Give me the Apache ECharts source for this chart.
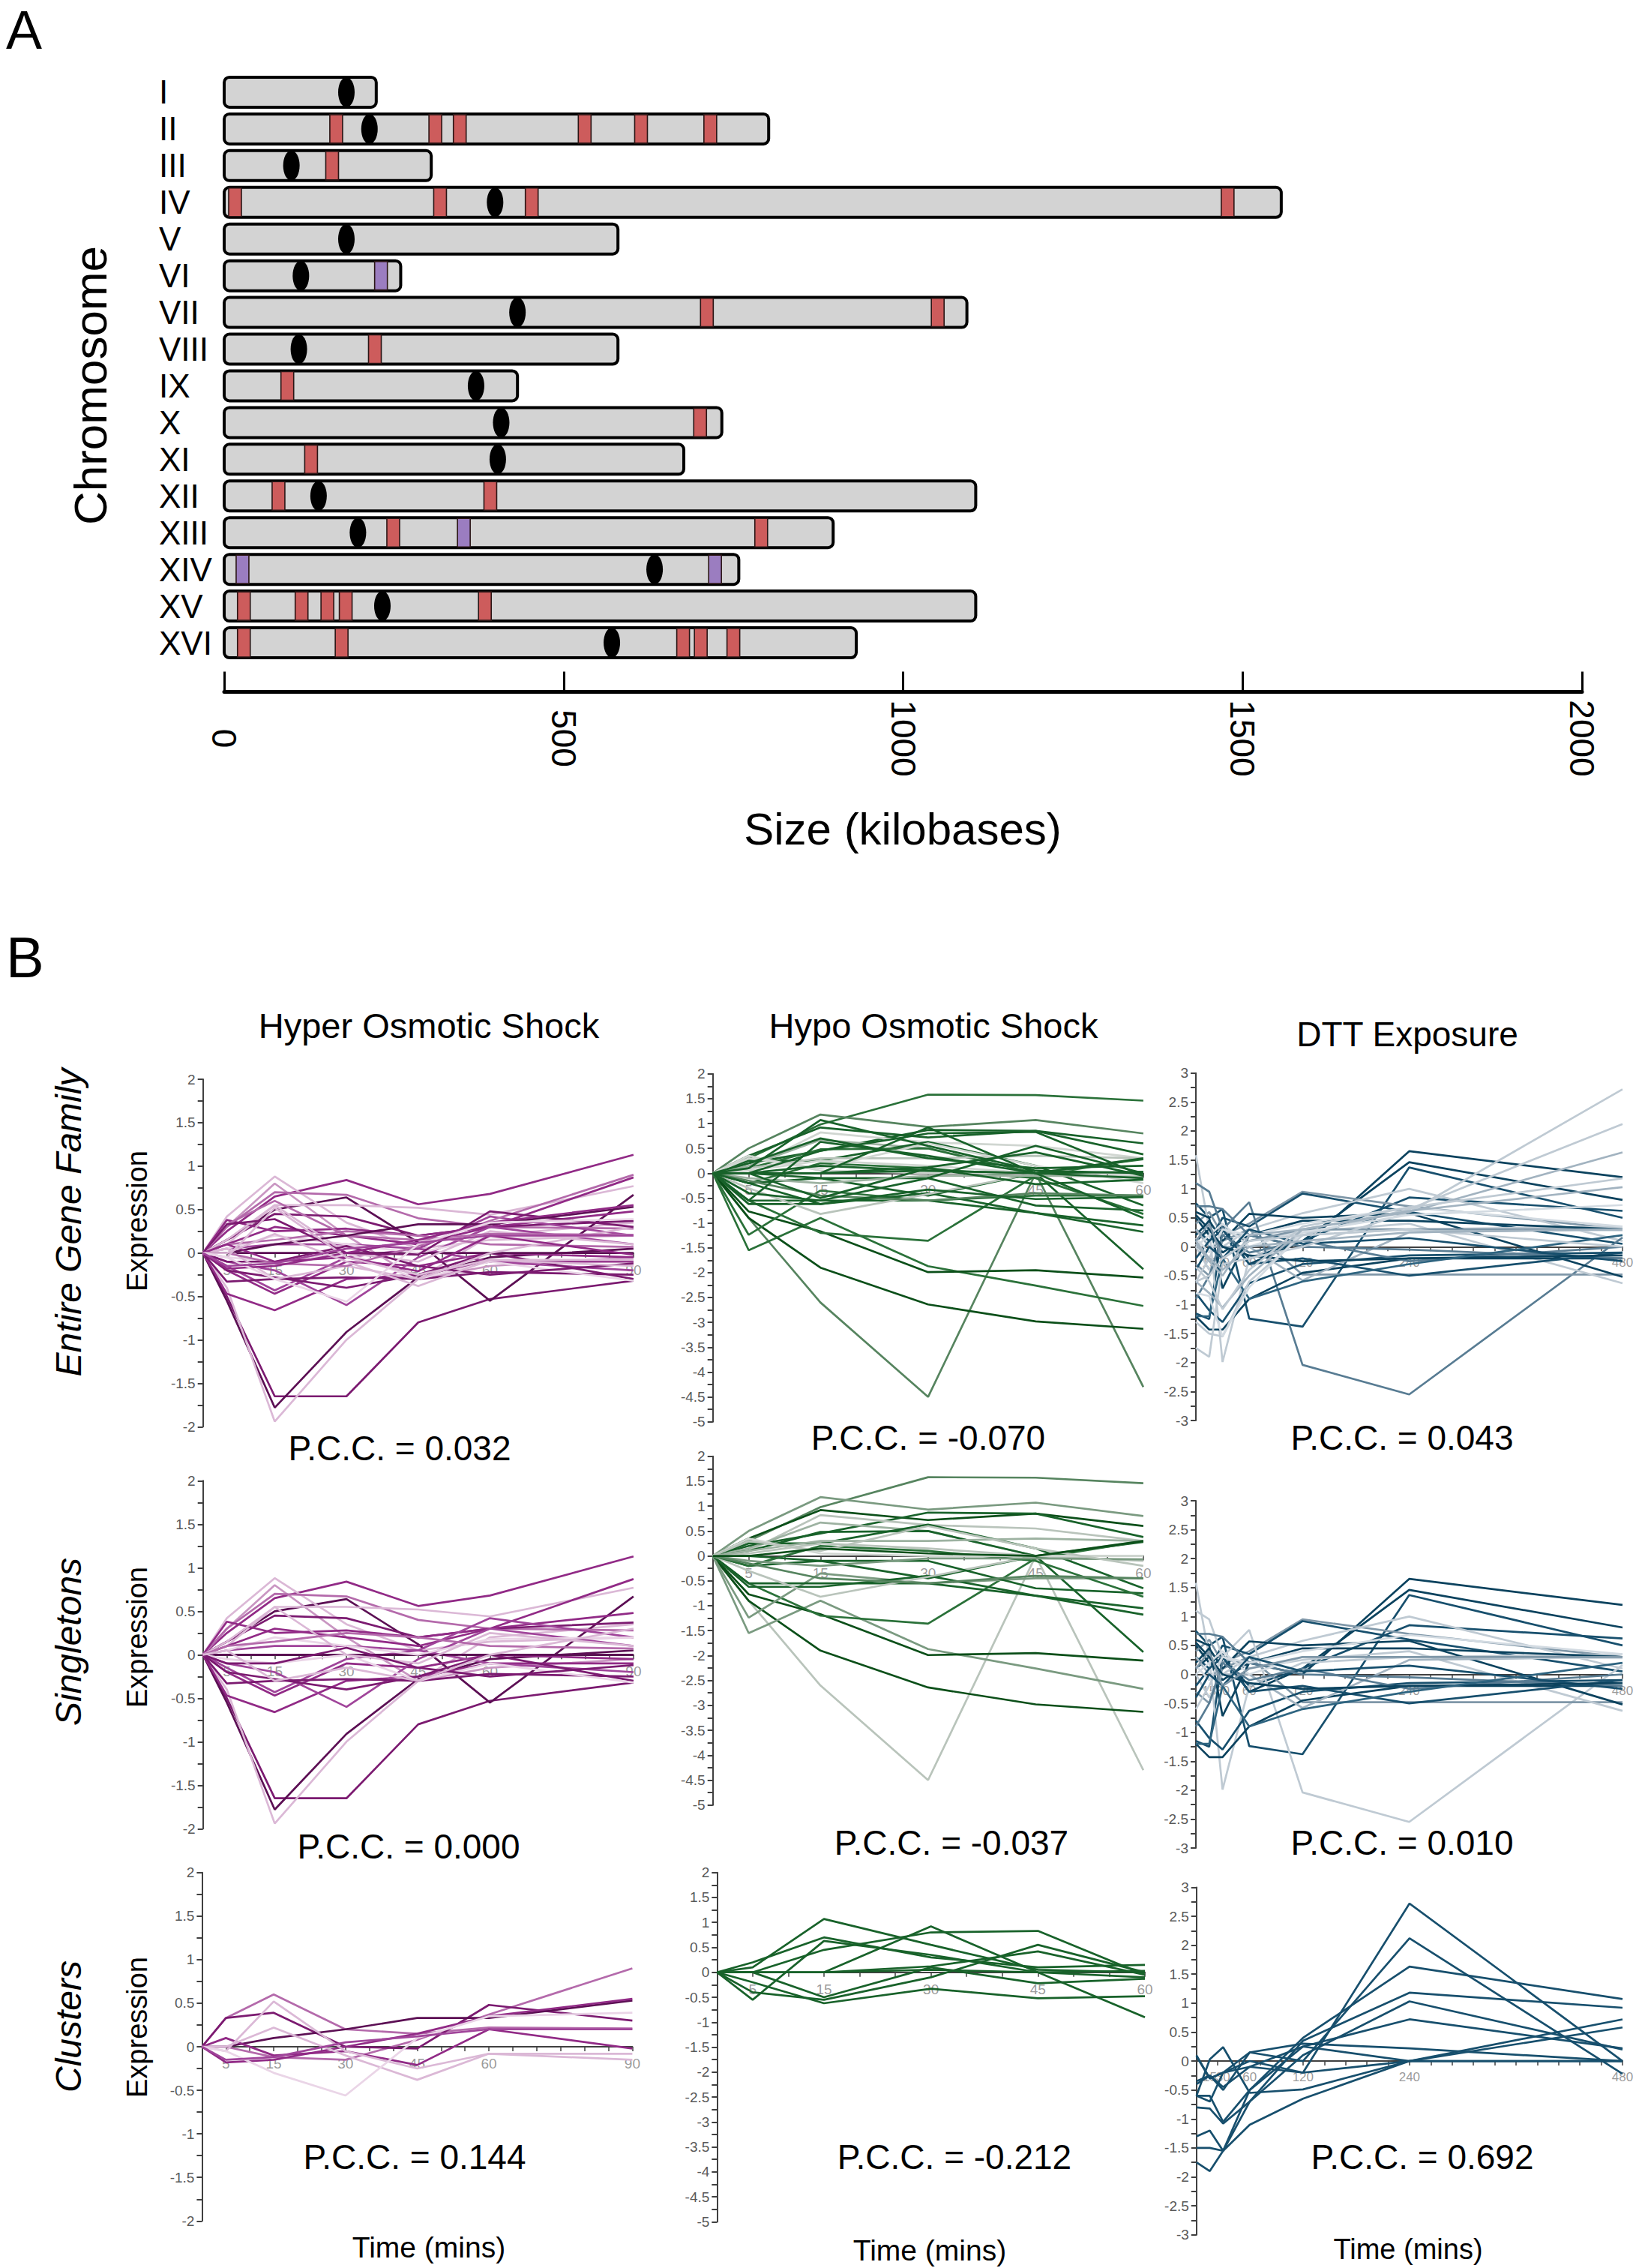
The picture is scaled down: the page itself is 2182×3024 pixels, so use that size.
<!DOCTYPE html>
<html><head><meta charset="utf-8">
<script src="https://cdn.jsdelivr.net/npm/echarts@6/dist/echarts.min.js"></script>
<style>html,body{margin:0;padding:0;background:#fff}#c{width:2182px;height:3024px}</style>
</head><body><div id="c"></div>
<script>
// ---------------- Panel A data ----------------
const chromNames = ['I','II','III','IV','V','VI','VII','VIII','IX','X','XI','XII','XIII','XIV','XV','XVI'];
const chromLengths = [224,802,305,1557,580,260,1094,580,432,733,677,1107,897,758,1107,931];
const centromeres = [180,214,99,399,180,113,432,110,371,408,403,139,197,634,233,571];
const redBands = [[1,165],[1,311],[1,347],[1,531],[1,614],[1,716],[2,159],[3,16],[3,318],[3,453],[3,1478],
  [6,711],[6,1051],[7,222],[8,93],[9,701],[10,128],[11,80],[11,392],[12,249],[12,791],
  [14,29],[14,114],[14,152],[14,179],[14,384],[15,29],[15,173],[15,676],[15,702],[15,750]];
const purpleBands = [[5,231],[12,353],[13,27],[13,723]];

// ---------------- Panel B data ----------------
const hyperTimes = [0,5,15,30,45,60,90];
const hypoTimes = [0,5,15,30,45,60];
const dttTimes = [0,15,30,60,120,240,480];

const hyperSingletons = [
  [0,0.25,0.65,0.84,0.56,0.68,1.13],
  [0,-0.5,-1.65,-1.65,-0.8,-0.53,-0.32],
  [0,-0.55,-1.78,-0.91,-0.28,-0.05,0.05],
  [0,-0.4,-1.94,-1.0,-0.3,0.2,0.35],
  [0,0.15,0.5,0.64,0.12,-0.55,0.67],
  [0,0.42,0.88,0.35,0.05,0.15,0.2],
  [0,0.3,0.8,0.2,-0.3,-0.15,-0.05],
  [0,0.3,0.7,0.67,0.4,0.3,0.28],
  [0,0.15,0.45,0.42,0.2,0.3,0.37],
  [0,0.1,0.55,0.55,0.52,0.44,0.77],
  [0,0.1,0.3,0.2,0.1,0.3,0.87],
  [0,0.38,0.25,0.28,0.2,0.3,0.48],
  [0,-0.47,-0.66,-0.3,-0.25,-0.1,-0.1],
  [0,-0.2,-0.47,-0.1,-0.15,0.0,-0.05],
  [0,-0.15,-0.43,-0.05,0.05,-0.1,-0.2],
  [0,-0.1,-0.2,-0.6,-0.05,0.3,0.1],
  [0,-0.2,-0.28,-0.4,-0.25,0.0,-0.3],
  [0,-0.33,-0.3,-0.28,-0.3,-0.22,-0.25],
  [0,0.0,0.0,0.0,0.0,0.0,0.0],
  [0,0.05,0.1,0.1,0.05,0.42,0.2],
  [0,-0.05,-0.1,0.0,-0.3,-0.1,-0.32],
  [0,0.05,0.2,0.1,0.0,0.18,0.2],
  [0,0.15,0.55,0.0,-0.1,0.25,0.1],
  [0,0.1,0.15,0.25,0.2,0.1,0.07],
  [0,-0.1,-0.1,0.08,-0.15,-0.25,-0.12],
  [0,0.05,-0.3,-0.15,-0.3,0.0,0.3]
];
const hyperClusters = [
  [0,0.0,-0.12,-0.15,0.08,0.37,0.9],
  [0,0.33,0.6,0.2,0.15,0.22,0.21],
  [0,0.33,0.39,0.0,-0.02,0.48,0.3],
  [0,0.0,0.1,0.2,0.33,0.33,0.53],
  [0,-0.18,-0.15,0.0,0.15,0.35,0.55],
  [0,0.1,-0.1,-0.05,-0.21,0.2,-0.02],
  [0,-0.05,0.52,-0.05,-0.25,-0.08,-0.08],
  [0,0.0,0.22,-0.1,-0.38,-0.08,-0.15],
  [0,-0.05,-0.3,-0.56,0.1,0.35,0.39],
  [0,-0.15,-0.12,0.05,0.12,0.2,0.2]
];

const hypoSingletons = [
  [0,0.3,0.98,1.58,1.57,1.46],
  [0,0.5,1.18,0.93,1.07,0.8],
  [0,0.35,0.92,0.72,0.85,0.6],
  [0,0.2,0.45,0.87,0.85,0.38],
  [0,0.1,0.82,0.62,0.55,0.3],
  [0,0.15,0.67,0.5,0.0,0.3],
  [0,0.25,0.25,0.63,0.15,-0.65],
  [0,0.1,0.48,0.5,0.0,0.28],
  [0,-0.9,-2.6,-4.5,0.0,-4.3],
  [0,-0.9,-1.9,-2.64,-2.98,-3.13],
  [0,-1.55,-0.9,-1.87,-2.26,-2.67],
  [0,-0.77,-1.17,-1.99,-1.95,-2.1],
  [0,-0.55,-1.2,-1.36,-0.05,0.3],
  [0,-0.2,-0.1,-0.45,0.0,-1.93],
  [0,-1.24,-0.35,-0.55,-0.45,-0.45],
  [0,-0.55,-0.55,-0.55,-0.8,-1.05],
  [0,-0.62,-0.62,-0.4,-0.8,-1.18],
  [0,-0.3,-0.82,-0.42,0.0,0.0],
  [0,0.0,-0.1,-0.1,-0.65,-0.75],
  [0,-0.2,0.2,0.1,-0.1,-0.82],
  [0,0.05,0.25,0.15,0.0,-0.1],
  [0,0.1,0.3,0.3,0.35,0.3],
  [0,-0.1,-0.2,-0.05,-0.05,-0.07],
  [0,0.35,0.05,0.0,0.0,0.0],
  [0,-0.15,-0.45,-0.55,-0.4,-0.45],
  [0,0.3,0.1,0.6,0.15,-0.2],
  [0,0.0,0.15,0.05,0.0,0.3]
];
const hypoClusters = [
  [0,0.1,1.07,0.55,0.05,0.0],
  [0,-0.55,0.63,0.35,0.0,-0.1],
  [0,0.2,0.7,0.3,0.1,0.15],
  [0,0.0,0.45,0.8,0.83,-0.05],
  [0,0.0,0.0,0.92,0.0,-0.9],
  [0,-0.2,-0.62,-0.33,-0.52,-0.48],
  [0,-0.4,-0.55,-0.1,0.55,0.0],
  [0,0.0,0.0,0.12,0.42,-0.05],
  [0,0.0,0.0,0.05,0.0,0.03],
  [0,0.0,-0.5,0.1,-0.22,-0.13]
];

const dttSingletons = [
  [0.1,0.3,-0.1,0.2,0.0,1.65,1.2],
  [0.5,0.2,0.35,-0.3,0.1,1.46,0.81],
  [0.75,0.5,0.65,-1.24,-1.38,1.37,0.5],
  [-1.15,-1.25,0.3,-0.2,0.1,0.85,0.62],
  [0.4,0.6,0.2,0.4,0.95,0.7,0.3],
  [0.3,0.1,0.5,0.35,0.92,0.6,0.05],
  [0.0,-0.4,0.0,0.3,0.58,1.0,0.1],
  [1.58,0.3,-1.99,-0.2,0.2,0.3,0.35],
  [1.1,0.95,0.3,0.77,-2.04,-2.55,0.16],
  [-0.3,-0.5,0.1,0.3,-0.48,-0.48,-0.48],
  [0.2,0.45,0.1,0.57,0.5,0.58,-0.52],
  [-0.6,-0.2,0.3,0.1,0.25,0.4,-0.63],
  [-1.2,-1.43,-1.43,-0.9,-0.45,-0.2,-0.2],
  [-0.8,-1.1,-1.3,-0.63,-0.3,-0.15,-0.1],
  [0.6,0.5,-0.72,0.2,0.45,0.45,0.3],
  [0.3,0.0,0.0,0.0,-0.58,0.25,0.3],
  [0.7,0.7,0.65,0.2,0.0,-0.05,-0.2],
  [-0.2,0.1,0.3,-0.3,-0.2,-0.5,-0.1],
  [0.0,0.2,0.4,0.0,0.3,0.3,0.28],
  [-0.9,-0.5,0.2,-0.1,0.1,-0.25,0.0],
  [0.15,-0.1,0.3,0.2,0.4,0.68,0.35],
  [-0.4,0.0,-0.2,0.3,0.05,0.15,-0.25],
  [0.55,0.3,0.0,-0.15,-0.25,-0.2,-0.15],
  [0.1,0.4,-0.2,0.1,0.3,0.3,0.3],
  [-1.2,-1.2,-0.2,-0.9,-0.6,-0.3,0.2]
];
const dttClusters = [
  [0.1,-0.3,-0.2,-0.1,-0.2,2.72,0.0],
  [-0.35,-0.25,-0.5,0.15,0.0,2.12,-0.22],
  [-0.6,-0.6,-1.05,-0.5,0.4,1.63,1.07],
  [-0.8,-0.82,-1.08,-0.7,0.35,1.18,0.92],
  [-1.3,-1.2,-1.55,-0.7,0.1,1.03,0.2],
  [-1.5,-1.5,-1.55,-0.5,0.25,0.72,0.22],
  [-1.75,-1.9,-1.55,-1.1,-0.65,0.0,0.72],
  [-0.6,0.03,0.24,-0.55,-0.49,0.0,0.58],
  [0.08,-0.3,-0.2,0.15,0.3,0.22,0.0],
  [-0.4,-0.25,-0.45,-0.1,0.25,0.0,0.0],
  [-0.6,-0.7,-0.2,0.0,-0.2,0.0,0.0]
];
const dttEntireExtra = [
  [-1.75,-1.9,-0.3,-0.2,0.0,0.6,2.72],
  [-1.3,-1.5,-1.55,-0.6,0.2,0.65,2.12],
  [-0.6,-0.8,-1.05,-0.5,0.3,0.6,1.63],
  [-0.35,-0.6,-1.08,-0.4,0.35,0.68,1.18],
  [0.05,-0.25,-0.5,0.2,0.3,0.62,1.03],
  [-0.8,-0.85,-1.55,-0.7,0.25,0.55,0.72],
  [-0.6,-0.5,-0.2,0.1,0.2,0.3,0.0],
  [0.1,-0.2,-0.4,0.0,0.1,0.25,0.3]
];
const pccLabels = ['P.C.C. = 0.032','P.C.C. = -0.070','P.C.C. = 0.043',
                   'P.C.C. = 0.000','P.C.C. = -0.037','P.C.C. = 0.010',
                   'P.C.C. = 0.144','P.C.C. = -0.212','P.C.C. = 0.692'];

// ---------------- styles ----------------
const hyperPal = ['#5c0f54','#7b1a70','#912a86','#a0449a','#b46aab','#c996c2','#dbb8d6','#ead5e7'];
const hypoPal  = ['#0b4f19','#18622a','#2a7139','#56845f','#7a9a80','#9db2a1','#b9c4bb','#d0d6d1'];
const dttPal   = ['#0b425e','#174f6d','#2e6480','#587c93','#7f97a8','#a2b3c0','#bfcad3','#d3dbe2'];
const hyperSingleShade = [2,1,0,6,0,6,5,4,1,6,2,2,2,2,3,3,1,1,0,3,7,7,6,4,1,6];
const hyperClusterShade = [4,4,1,0,2,2,6,6,7,3];
const hypoSingleShade = [3,4,0,1,6,5,1,1,6,0,4,0,2,1,4,1,1,6,1,2,6,5,4,7,3,6,0];
const hypoEntireShade = [2,3,1,1,7,5,1,2,3,0,2,0,2,1,2,1,1,6,1,2,7,6,5,7,3,7,1];
const hypoClusterShade = [1,1,1,1,1,1,1,1,1,1];
const dttSingleShade = [0,0,1,1,4,1,6,6,6,4,0,6,0,1,0,5,3,1,7,3,7,1,0,4,2];
const dttEntireShade = [0,0,1,1,4,1,6,6,3,4,0,6,0,1,0,5,3,1,7,3,7,1,0,4,2];
const dttClusterShade = [1,1,1,1,1,1,1,1,1,1,1];
const dttExtraShade = [6,6,5,6,5,7,6,5];

const FONT = "'Liberation Sans', Arial, Helvetica, sans-serif";
const chart = echarts.init(document.getElementById('c'), null, {renderer:'svg', width:2182, height:3024});

const grids = [{left:299, top:98.5, width:1811, height:783}];
const xAxes = [{
  gridIndex:0, type:'value', min:0, max:2000, interval:500, offset:41,
  axisLine:{show:true, lineStyle:{color:'#000', width:5}},
  axisTick:{show:true, inside:true, length:27, lineStyle:{color:'#000', width:3}},
  axisLabel:{rotate:-90, fontSize:46, fontFamily:FONT, color:'#000', margin:62, align:'center', verticalAlign:'middle',
    formatter:v=>String(v)},
  splitLine:{show:false}
}];
const yAxes = [{
  gridIndex:0, type:'category', data:chromNames, inverse:true,
  axisLine:{show:false}, axisTick:{show:false}, splitLine:{show:false},
  axisLabel:{interval:0, align:'left', margin:87, fontSize:44, fontFamily:FONT, color:'#000'}
}];
const series = [];

series.push({
  type:'custom', xAxisIndex:0, yAxisIndex:0, z:1, silent:true, animation:false,
  data: chromNames.map((n,i)=>[i, chromLengths[i]]), encode:{x:1, y:0},
  renderItem(params, api){
    const i = api.value(0), len = api.value(1);
    const p0 = api.coord([0, i]), p1 = api.coord([len, i]);
    const h = 40;
    return {type:'rect', shape:{x:p0[0], y:p0[1]-h/2, width:p1[0]-p0[0], height:h, r:7},
      style:{fill:'#d3d3d3', stroke:'#000', lineWidth:4}};
  }
});
function bandSeries(data, fill){
  return {
    type:'custom', xAxisIndex:0, yAxisIndex:0, z:2, silent:true, animation:false,
    data, encode:{x:1, y:0},
    renderItem(params, api){
      const p = api.coord([api.value(1), api.value(0)]);
      const w = 17, h = 38;
      return {type:'rect', shape:{x:p[0]-w/2, y:p[1]-h/2, width:w, height:h},
        style:{fill, stroke:'#2a1515', lineWidth:1.6}};
    }
  };
}
series.push(bandSeries(redBands, '#cd5c5c'));
series.push(bandSeries(purpleBands, '#9b7dc0'));
series.push({
  type:'custom', xAxisIndex:0, yAxisIndex:0, z:3, silent:true, animation:false,
  data: centromeres.map((c,i)=>[i, c]), encode:{x:1, y:0},
  renderItem(params, api){
    const p = api.coord([api.value(1), api.value(0)]);
    return {type:'ellipse', shape:{cx:p[0], cy:p[1], rx:11, ry:20}, style:{fill:'#000'}};
  }
});

// ---------------- Panel B layout ----------------
const panelBoxes = [
  [270.7,1439,574.2,463.3],[950.7,1431.7,574.2,464],[1595,1430.7,569,463.3],
  [270.7,1974.3,574.2,464],[950.7,1941.7,574.2,465],[1595,2001,569,463],
  [269.4,2496.7,574,464.6],[956.3,2496.7,570.7,465.7],[1595.8,2516.4,568.2,463.3]
];
const conds = [
  {times:hyperTimes, xMax:90, yMin:-2, yMax:2, tick:5, pal:hyperPal, lblSize:19},
  {times:hypoTimes, xMax:60, yMin:-5, yMax:2, tick:5, pal:hypoPal, lblSize:19},
  {times:dttTimes, xMax:480, yMin:-3, yMax:3, tick:24, pal:dttPal, lblSize:17}
];
const panelSets = [
  [[hyperSingletons,hyperSingleShade],[hyperClusters,hyperClusterShade]],
  [[hypoSingletons,hypoEntireShade],[hypoClusters,hypoClusterShade]],
  [[dttSingletons,dttEntireShade],[dttEntireExtra,dttExtraShade]],
  [[hyperSingletons,hyperSingleShade]],
  [[hypoSingletons,hypoSingleShade]],
  [[dttSingletons,dttSingleShade]],
  [[hyperClusters,hyperClusterShade]],
  [[hypoClusters,hypoClusterShade]],
  [[dttClusters,dttClusterShade]]
];
function steps(step, max){ const a=[]; for(let v=step; v<=max+1e-9; v+=step) a.push(v); return a; }

panelBoxes.forEach((b, k)=>{
  const gi = k+1, c = conds[k%3];
  grids.push({left:b[0], top:b[1], width:b[2], height:b[3]});
  xAxes.push({
    gridIndex:gi, type:'value', min:0, max:c.xMax,
    axisLine:{show:true, onZero:true, lineStyle:{color:'#404040', width:2}},
    axisTick:{show:true, customValues:steps(c.tick, c.xMax), length:6, lineStyle:{color:'#404040', width:1.5}},
    axisLabel:{show:false},
    splitLine:{show:false}
  });
  yAxes.push({
    gridIndex:gi, type:'value', min:c.yMin, max:c.yMax, interval:0.5,
    axisLine:{show:true, lineStyle:{color:'#404040', width:2}},
    axisTick:{show:true, length:7, lineStyle:{color:'#404040', width:2}},
    minorTick:{show:true, splitNumber:2, length:7, lineStyle:{color:'#404040', width:2}},
    splitLine:{show:false}, minorSplitLine:{show:false},
    axisLabel:{fontSize:19, fontFamily:FONT, color:'#595959', margin:10}
  });
  // time labels sitting just under the zero line, drawn beneath the lines (as in the reference)
  series.push({
    type:'scatter', xAxisIndex:gi, yAxisIndex:gi, silent:true, animation:false,
    symbolSize:0, z:1,
    data: c.times.slice(1).map(t=>[t, 0]),
    label:{show:true, position:'bottom', distance:13, formatter:p=>String(p.value[0]),
      fontSize:c.lblSize, fontFamily:FONT, color:'#7f7f7f'}
  });
  panelSets[k].forEach(([lines, shades])=>{
    lines.forEach((vals, i)=>{
      series.push({
        type:'line', xAxisIndex:gi, yAxisIndex:gi, silent:true, animation:false,
        symbol:'none', showSymbol:false, z:3,
        data: vals.map((v, j)=>[c.times[j], v]),
        lineStyle:{width:2.7, color:c.pal[shades[i]]},
        itemStyle:{color:c.pal[shades[i]]}
      });
    });
  });
});

// ---------------- text ----------------
function txt(text, x, y, size, opts={}){
  return Object.assign({type:'text', x, y, silent:true, z:10,
    style:{text, fontSize:size, lineHeight:opts.lh||Math.round(size*1.2), fontFamily:FONT, fill:'#000',
      align:opts.align||'center', verticalAlign:'middle', fontStyle:opts.italic?'italic':'normal'}},
    opts.rot?{rotation:opts.rot}:{});
}
const R = Math.PI/2;
const pccPos = [[533,1931],[1238,1917],[1870,1917],[545,2462],[1269,2457],[1870,2457],[553,2876],[1273,2876],[1897,2876]];
const graphic = [
  txt('A', 8, 40, 72, {lh:72, align:'left'}),
  txt('B', 8, 1276, 76, {lh:76, align:'left'}),
  txt('Chromosome', 120, 514, 62, {rot:R}),
  txt('Size (kilobases)', 1204, 1105, 60),
  txt('Hyper Osmotic Shock', 572, 1367, 47),
  txt('Hypo Osmotic Shock', 1245, 1367, 47),
  txt('DTT Exposure', 1877, 1379, 46),
  txt('Entire Gene Family', 91, 1630, 48, {rot:R, italic:true}),
  txt('Singletons', 91, 2189, 48, {rot:R, italic:true}),
  txt('Clusters', 91, 2702, 48, {rot:R, italic:true}),
  txt('Expression', 183, 1628, 38, {rot:R}),
  txt('Expression', 183, 2183, 38, {rot:R}),
  txt('Expression', 183, 2703, 38, {rot:R}),
  txt('Time (mins)', 572, 2996, 39),
  txt('Time (mins)', 1240, 3000, 39),
  txt('Time (mins)', 1878, 2999, 38)
];
pccLabels.forEach((t,i)=>graphic.push(txt(t, pccPos[i][0], pccPos[i][1], 46)));

chart.setOption({
  animation:false,
  backgroundColor:'#fff',
  grid:grids, xAxis:xAxes, yAxis:yAxes, series, graphic
});
</script></body></html>
